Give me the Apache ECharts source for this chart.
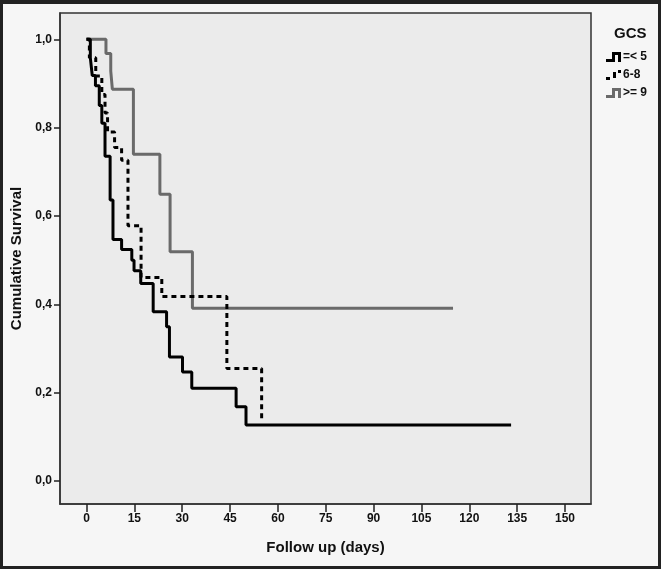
<!DOCTYPE html>
<html>
<head>
<meta charset="utf-8">
<script src="https://cdn.jsdelivr.net/npm/echarts@6/dist/echarts.min.js"></script>
<style>
html,body{margin:0;padding:0;background:#f6f6f6;}
#wrap{position:relative;width:661px;height:569px;}
#chart{width:661px;height:569px;}
#frame{position:absolute;left:0;top:0;width:661px;height:569px;box-sizing:border-box;border:3px solid #222;border-top-width:4px;pointer-events:none;}
</style>
</head>
<body>
<div id="wrap"><div id="chart"></div><div id="frame"></div></div>
<script>
// Data (Kaplan-Meier steps: time in days, survival)
const seriesNames = ['=< 5', '6-8', '>= 9'];
const xTicks = [0, 15, 30, 45, 60, 75, 90, 105, 120, 135, 150];
const yTicks = [0, 0.2, 0.4, 0.6, 0.8, 1.0];

const blackT = [0, 1.2, 1.8, 2.8, 4.0, 4.8, 5.8, 7.4, 8.3, 11.0, 14.2, 14.9, 17.0, 20.9, 25.1, 26.0, 30.1, 33.0, 46.9, 50.0, 133.1];
const blackS = [1.0, 0.958, 0.918, 0.895, 0.85, 0.81, 0.735, 0.636, 0.547, 0.524, 0.5, 0.476, 0.447, 0.383, 0.349, 0.281, 0.247, 0.21, 0.168, 0.127, 0.127];

const dashT = [0, 0.9, 2.9, 4.8, 5.8, 6.6, 8.8, 11.0, 13.0, 17.1, 23.6, 44.0, 54.9];
const dashS = [1.0, 0.958, 0.917, 0.875, 0.833, 0.79, 0.755, 0.726, 0.578, 0.461, 0.418, 0.255, 0.138];

const grayT = [0, 6.1, 7.6, 8.1, 14.7, 23.0, 26.2, 33.2, 114.9];
const grayS = [1.0, 0.968, 0.928, 0.887, 0.740, 0.649, 0.519, 0.391, 0.391];

function pairs(t, s) { return t.map((v, i) => [v, s[i]]); }

const labelFont = "'Liberation Sans', Arial, sans-serif";
const titleFont = "'Liberation Sans', Arial, sans-serif";

const chart = echarts.init(document.getElementById('chart'), null, {renderer: 'canvas'});
chart.setOption({
  backgroundColor: '#f6f6f6',
  animation: false,
  title: {
    text: 'GCS', left: 609, top: 21,
    textStyle: {fontFamily: titleFont, fontWeight: 'bold', fontSize: 15, color: '#111'}
  },
  legend: {
    orient: 'vertical', left: 601, top: 46, itemWidth: 15, itemHeight: 10, itemGap: 6,
    textStyle: {fontFamily: labelFont, fontWeight: 'bold', fontSize: 12, color: '#111', padding: [0, 0, 0, -3]},
    data: [
      {name: seriesNames[0], icon: 'path://M0,7 H6 V0 H15 V10 H12 V3 H9 V10 H0 Z'},
      {name: seriesNames[1], icon: 'path://M0,7 H4 V10 H0 Z M7,2 H10 V8 H7 Z M12,0 H15 V3 H12 Z'},
      {name: seriesNames[2], icon: 'path://M0,7 H6 V0 H15 V10 H12 V3 H9 V10 H0 Z'}
    ]
  },
  grid: {
    left: 60, right: 70, top: 13, bottom: 65,
    show: true, backgroundColor: '#ebebeb', borderColor: '#333', borderWidth: 1.5
  },
  xAxis: {
    type: 'value', min: -8.31, max: 158.15,
    name: 'Follow up (days)', nameLocation: 'middle', nameGap: 36,
    nameTextStyle: {fontFamily: titleFont, fontWeight: 'bold', fontSize: 15, color: '#111'},
    axisLine: {show: true, onZero: false, lineStyle: {color: '#333', width: 1.5}},
    axisTick: {show: true, length: 8, customValues: xTicks, lineStyle: {color: '#222', width: 1.5}},
    axisLabel: {customValues: xTicks, margin: 9, fontFamily: labelFont, fontWeight: 'bold', fontSize: 12, color: '#111',
      formatter: v => String(Math.round(v))},
    splitLine: {show: false}
  },
  yAxis: {
    type: 'value', min: -0.052, max: 1.0595,
    name: 'Cumulative Survival', nameLocation: 'middle', nameGap: 36,
    nameTextStyle: {fontFamily: titleFont, fontWeight: 'bold', fontSize: 15, color: '#111'},
    axisLine: {show: true, onZero: false, lineStyle: {color: '#333', width: 1.5}},
    axisTick: {show: true, length: 6, customValues: yTicks, lineStyle: {color: '#222', width: 1.5}},
    axisLabel: {customValues: yTicks, margin: 8, fontFamily: labelFont, fontWeight: 'bold', fontSize: 12, color: '#111',
      formatter: v => v.toFixed(1).replace('.', ',')},
    splitLine: {show: false}
  },
  series: [
    {name: seriesNames[2], type: 'line', step: 'end', showSymbol: false, symbol: 'none', z: 2,
      data: pairs(grayT, grayS), color: '#6a6a6a', lineStyle: {color: '#6a6a6a', width: 3}},
    {name: seriesNames[1], type: 'line', step: 'end', showSymbol: false, symbol: 'none', z: 3,
      data: pairs(dashT, dashS), color: '#000', lineStyle: {color: '#000', width: 3, type: [5, 4]}},
    {name: seriesNames[0], type: 'line', step: 'end', showSymbol: false, symbol: 'none', z: 4,
      data: pairs(blackT, blackS), color: '#000', lineStyle: {color: '#000', width: 3}}
  ]
});
</script>
</body>
</html>
